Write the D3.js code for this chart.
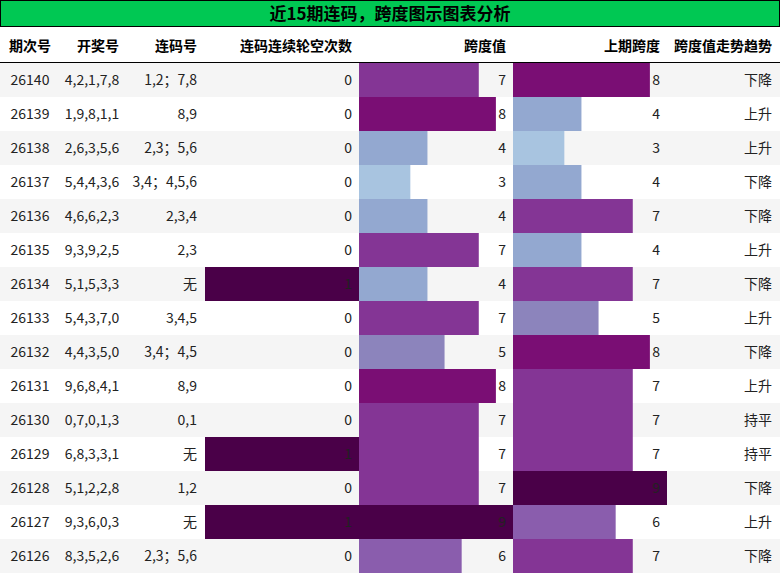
<!DOCTYPE html><html><head><meta charset="utf-8"><script src="https://cdn.jsdelivr.net/npm/d3@7"></script>
<style>body{margin:0;background:#fff;font-family:"Noto Sans CJK SC","Noto Sans",sans-serif}</style></head><body><svg id="c" width="780" height="574"></svg>
<script>
const title="近15期连码，跨度图示图表分析";
const headers=["期次号","开奖号","连码号","连码连续轮空次数","跨度值","上期跨度","跨度值走势趋势"];
const issues=["26140","26139","26138","26137","26136","26135","26134","26133","26132","26131","26130","26129","26128","26127","26126"];
const draws=["4,2,1,7,8","1,9,8,1,1","2,6,3,5,6","5,4,4,3,6","4,6,6,2,3","9,3,9,2,5","5,1,5,3,3","5,4,3,7,0","4,4,3,5,0","9,6,8,4,1","0,7,0,1,3","6,8,3,3,1","5,1,2,2,8","9,3,6,0,3","8,3,5,2,6"];
const consec=["1,2；7,8","8,9","2,3；5,6","3,4；4,5,6","2,3,4","2,3","无","3,4,5","3,4；4,5","8,9","0,1","无","1,2","无","2,3；5,6"];
const miss=[0,0,0,0,0,0,1,0,0,0,0,1,0,1,0];
const span=[7,8,4,3,4,7,4,7,5,8,7,7,7,9,6];
const prevSpan=[8,4,3,4,7,4,7,5,8,7,7,7,9,6,7];
const trend=["下降","上升","上升","下降","下降","上升","下降","上升","下降","上升","持平","持平","下降","上升","下降"];
const colorMap={1:"#4a0048",3:"#a8c4e0",4:"#93a8d0",5:"#8c84bc",6:"#8a5dad",7:"#843595",8:"#7a0e74",9:"#4a0048"};
const svg=d3.select("#c");
svg.append("rect").attr("x",0.5).attr("y",0.5).attr("width",779).attr("height",26).attr("fill","#00c853").attr("stroke","#000");
svg.append("text").attr("x",390).attr("y",20).attr("text-anchor","middle").attr("font-size",17).attr("font-weight","bold").text(title);
const hy=46;
const hx=[30,98,197,352,506,660,772],ha=["middle","middle","end","end","end","end","end"];
headers.forEach((h,i)=>svg.append("text").attr("x",hx[i]).attr("y",hy+5).attr("text-anchor",ha[i]).attr("font-size",14).attr("font-weight","bold").text(h));
svg.append("line").attr("x1",0).attr("x2",780).attr("y1",62.5).attr("y2",62.5).attr("stroke","#000");
const y=d3.scaleBand().domain(issues).range([63,573]);
const xm=d3.scaleLinear().domain([0,1]).range([0,154]);
const xs=d3.scaleLinear().domain([0,9]).range([0,154]);
issues.forEach((d,i)=>{
 const yy=y(d),h=y.bandwidth(),ty=yy+h/2+5;
 svg.append("rect").attr("x",0).attr("y",yy).attr("width",780).attr("height",h).attr("fill",i%2?"#fff":"#f5f5f5");
 if(miss[i]) svg.append("rect").attr("x",205).attr("y",yy).attr("width",xm(miss[i])).attr("height",h).attr("fill",colorMap[miss[i]]);
 svg.append("rect").attr("x",359).attr("y",yy).attr("width",xs(span[i])).attr("height",h).attr("fill",colorMap[span[i]]);
 svg.append("rect").attr("x",513).attr("y",yy).attr("width",xs(prevSpan[i])).attr("height",h).attr("fill",colorMap[prevSpan[i]]);
 const t=(x,a,s)=>svg.append("text").attr("x",x).attr("y",ty).attr("text-anchor",a).attr("font-size",14).attr("fill","#222").text(s);
 t(30,"middle",d);t(92,"middle",draws[i]);t(197,"end",consec[i]);t(352,"end",miss[i]);t(506,"end",span[i]);t(660,"end",prevSpan[i]);t(772,"end",trend[i]);
});
</script></body></html>
